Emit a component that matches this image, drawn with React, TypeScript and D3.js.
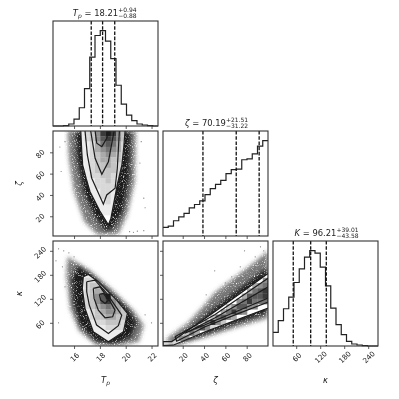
import { useEffect, useRef } from 'react';
import * as d3 from 'd3';

type Pt = [number, number];

// axis ranges
const tpDomain: Pt = [14.37, 22.5];
const zetaDomain: Pt = [1.5, 100];
const kappaDomain: Pt = [2, 264.5];

const tpTicks = [16, 18, 20, 22];
const zetaTicks = [20, 40, 60, 80];
const kappaTicks = [60, 120, 180, 240];

// 1d histograms, 20 bins each
const tpHist = [0, 0, 1, 6, 21, 55, 113, 208, 273, 288, 256, 203, 123, 66, 33, 16, 6, 3, 1, 0];
const zetaHist = [26, 30, 46, 58, 68, 85, 95, 106, 125, 143, 156, 168, 188, 200, 202, 230, 233, 248, 271, 288];
const kappaHist = [41, 76, 112, 147, 191, 232, 267, 287, 279, 237, 181, 114, 64, 34, 14, 6, 3, 1, 0, 0];

// 16/50/84 percentiles
const tpQuant = [17.33, 18.21, 19.15];
const zetaQuant = [38.97, 70.19, 91.7];
const kappaQuant = [52.63, 96.21, 135.22];

// 2d density, top row first, digit = grey level
const tpZetaGrid = [
  '00000123589853100000',
  '00000123578753100000',
  '00000112467642100000',
  '00000112456542100000',
  '00000112345432100000',
  '00000112344332100000',
  '00000012334321100000',
  '00000012333321000000',
  '00000012233221000000',
  '00000011223211000000',
  '00000001222211000000',
  '00000001122111000000',
  '00000001122110000000',
  '00000000112110000000',
  '00000000111110000000',
  '00000000011100000000',
];
const tpKappaGrid = [
  '00000000000000000000',
  '00000000000000000000',
  '00000000000000000000',
  '00000000000000000000',
  '00000000000000000000',
  '00000001000000000000',
  '00000011100000000000',
  '00000122210000000000',
  '00000123321000000000',
  '00000123443210000000',
  '00000123579432100000',
  '00000123578543210000',
  '00000123456543210000',
  '00000012345543210000',
  '00000012334433211000',
  '00000011223332211000',
  '00000001112222110000',
  '00000000111111000000',
  '00000000011100000000',
];
const zetaKappaGrid = [
  '00000000000000000000',
  '00000000000000000000',
  '00000000000000000000',
  '00000000000000000000',
  '00000000000000000000',
  '00000000000000000000',
  '00000000000000000000',
  '00000000000000000005',
  '00000000000000000456',
  '00000000000000004678',
  '00000000000000047778',
  '00000000000000568666',
  '00000000000035775500',
  '00000000000468650000',
  '00000000036754000000',
  '00000003585300000000',
  '00000257520000000000',
  '00013640000000000000',
  '00355000000000000000',
  '23200000000000000000',
];

// edge of the sample cloud
const tpZetaCloudOuter: Pt[] = [[15.5, 100], [15.6, 74.4], [16, 43], [16.8, 15], [17.8, 3], [19.4, 3], [20.1, 21], [20.7, 52.5], [20.8, 100]];
const tpZetaCloudInner: Pt[] = [[16.1, 100], [16.2, 74.4], [16.7, 43], [17.5, 21], [18.4, 6], [19, 8], [19.8, 24.4], [20.3, 55.6], [20.4, 100]];
const tpKappaCloudOuter: Pt[] = [[15.5, 225], [17.24, 190], [19.04, 140], [20.6, 90], [21.4, 54], [21, 12.6], [19.56, 3], [17.75, 4], [16.4, 40], [15.7, 96], [15.4, 179]];
const tpKappaCloudInner: Pt[] = [[16.3, 205], [17.24, 183], [18.53, 146], [20.1, 100], [20.9, 62.6], [20.4, 22], [19, 5], [17.6, 14], [16.4, 54.25], [15.9, 112.6], [15.8, 171]];
const zetaKappaCloudOuter: Pt[] = [[3.4, 17], [25, 60], [39, 100], [50, 135], [69, 174], [90, 217], [100, 240], [100, 72], [72, 50], [41, 24], [12.8, 4]];
const zetaKappaCloudInner: Pt[] = [[25, 40], [50, 100], [75, 150], [100, 200], [100, 85], [72, 60], [41, 30], [12.8, 5]];

// contours, outer first
const tpZetaContours: Pt[][] = [
  [[16.52, 100], [16.6, 80], [16.67, 68], [16.95, 55], [17.24, 43], [18, 25], [18.66, 12], [18.85, 18], [19.04, 30], [19.35, 50], [19.7, 68], [19.85, 85], [19.95, 100]],
  [[16.85, 100], [17.03, 77.5], [17.37, 55.7], [18.27, 31.3], [18.53, 40], [19.18, 46.3], [19.35, 65], [19.51, 100]],
  [[17.29, 100], [17.63, 74.4], [18.15, 59.4], [18.66, 71.2], [19.1, 100]],
  [[17.63, 100], [17.76, 88.5], [18.15, 85.3], [18.53, 93.2], [18.66, 100]],
];
const tpKappaContours: Pt[][] = [
  [[16.72, 175], [17.11, 181], [17.88, 162.6], [19.3, 116.8], [20.13, 83.4], [19.82, 37.6], [18.66, 12.6], [17.49, 37.6], [16.85, 96], [16.64, 146], [16.72, 175]],
  [[16.98, 162.6], [17.62, 166.8], [18.53, 133.4], [19.69, 79.25], [19.43, 52.6], [18.66, 33.4], [17.75, 54.25], [17.18, 104.25], [16.98, 137.6], [16.98, 162.6]],
  [[17.49, 146], [18.01, 150], [18.66, 121], [19.17, 91.75], [18.99, 75], [18.4, 72.6], [17.88, 91.75], [17.55, 121], [17.49, 146]],
  [[17.96, 131], [18.27, 133.4], [18.66, 116.75], [18.4, 108.4], [18.06, 116.75], [17.96, 131]],
];
const zetaKappaContours: Pt[][] = [
  [[1.5, 13], [9.7, 13], [50, 87.5], [100.3, 184], [100.3, 97], [72, 69], [41, 37.6], [11, 4], [1.5, 3], [1.5, 13]],
  [[12.8, 25], [50, 80], [100.3, 172], [100.3, 112], [72, 83], [41, 50], [14.35, 14], [12.8, 25]],
  [[22, 34], [50, 72], [100.3, 150], [100.3, 122], [72, 90], [41, 55], [22, 34]],
];

// stray samples away from the cloud
const tpZetaStray: Pt[] = [[20.3, 5.6], [20.6, 5], [20.9, 6], [21.4, 6.5], [15, 62], [14.9, 85], [21.4, 37], [21.5, 28], [15.3, 90], [21.1, 70], [21.2, 90]];
const tpKappaStray: Pt[] = [[14.8, 245], [15.2, 240], [14.6, 215], [15.3, 150], [14.8, 60], [21.5, 80], [22, 60], [15.6, 235], [16, 225], [15.1, 200]];
const zetaKappaStray: Pt[] = [[50, 190], [93, 250], [96, 240], [78, 240], [66, 175], [42, 130], [88, 225], [74, 200], [60, 160]];

const greyLevel = d3.scaleLinear<string>()
  .domain([0, 1, 3, 5, 7, 9])
  .range(['#ffffff', '#ececec', '#c4c4c4', '#8f8f8f', '#585858', '#1c1c1c']);

const ink = '#333';
const font = '"DejaVu Sans", sans-serif';

const App = () => {
  const svgRef = useRef<SVGSVGElement>(null);

  useEffect(() => {
    const svg = d3.select(svgRef.current);
    svg.selectAll('*').remove();

    const cols = [53, 163, 273];
    const rows = [21, 131, 241];
    const size = 105;

    const xTp = d3.scaleLinear().domain(tpDomain).range([cols[0], cols[0] + size]);
    const xZeta = d3.scaleLinear().domain(zetaDomain).range([cols[1], cols[1] + size]);
    const xKappa = d3.scaleLinear().domain(kappaDomain).range([cols[2], cols[2] + size]);
    const yZeta = d3.scaleLinear().domain(zetaDomain).range([rows[1] + size, rows[1]]);
    const yKappa = d3.scaleLinear().domain(kappaDomain).range([rows[2] + size, rows[2]]);

    const defs = svg.append('defs');
    const grain = defs.append('filter').attr('id', 'grain')
      .attr('x', '-5%').attr('y', '-5%').attr('width', '110%').attr('height', '110%');
    grain.append('feGaussianBlur').attr('in', 'SourceGraphic').attr('stdDeviation', 2.2).attr('result', 'soft');
    grain.append('feTurbulence').attr('type', 'fractalNoise').attr('baseFrequency', 0.9).attr('numOctaves', 2).attr('seed', 4).attr('result', 'noise');
    grain.append('feColorMatrix').attr('in', 'noise').attr('type', 'matrix')
      .attr('values', '0 0 0 0 0  0 0 0 0 0  0 0 0 0 0  0 0 0 3 -0.35').attr('result', 'dots');
    grain.append('feComposite').attr('in', 'soft').attr('in2', 'dots').attr('operator', 'in');

    const panelClip = (id: string, c: number, r: number) => {
      defs.append('clipPath').attr('id', id).append('rect')
        .attr('x', cols[c]).attr('y', rows[r]).attr('width', size).attr('height', size);
    };

    const frame = (c: number, r: number) => {
      svg.append('rect').attr('x', cols[c]).attr('y', rows[r]).attr('width', size).attr('height', size)
        .attr('fill', 'none').attr('stroke', ink).attr('stroke-width', 1.1);
    };

    const styleAxis = (g: any) => {
      g.select('.domain').remove();
      g.selectAll('line').attr('stroke', ink).attr('stroke-width', 0.8);
      g.selectAll('text').attr('fill', '#222').attr('font-family', font).attr('font-size', 7.2);
    };

    const bottomAxis = (x: any, ticks: number[], y: number, labels: boolean) => {
      const g = svg.append('g').attr('transform', `translate(0,${y})`)
        .call(d3.axisBottom(x).tickValues(ticks).tickSize(3).tickFormat(labels ? (d3.format('d') as any) : () => ''));
      styleAxis(g);
      if (labels) {
        g.selectAll('text').attr('text-anchor', 'middle').attr('dy', 0).attr('x', 0).attr('y', 0)
          .attr('transform', 'translate(2,13) rotate(-45)');
      }
    };

    const leftAxis = (y: any, ticks: number[], x: number, labels: boolean) => {
      const g = svg.append('g').attr('transform', `translate(${x},0)`)
        .call(d3.axisLeft(y).tickValues(ticks).tickSize(3).tickFormat(labels ? (d3.format('d') as any) : () => ''));
      styleAxis(g);
      if (labels) {
        g.selectAll('text').attr('text-anchor', 'middle').attr('dy', 0).attr('x', 0).attr('y', 0)
          .attr('transform', 'translate(-11,3) rotate(-45)');
      }
    };

    const drawHist = (c: number, r: number, values: number[], x: any, domain: Pt, quant: number[]) => {
      const y = d3.scaleLinear().domain([0, d3.max(values)! * 1.1]).range([rows[r] + size, rows[r]]);
      const bins = d3.range(values.length + 1).map((i) => domain[0] + ((domain[1] - domain[0]) * i) / values.length);
      const line = d3.line<number>().x((_, i) => x(bins[i])).y((d) => y(d)).curve(d3.curveStepAfter);
      const closed = [...values, values[values.length - 1]];
      svg.append('path').attr('d', line(closed)).attr('fill', 'none').attr('stroke', '#222').attr('stroke-width', 1.2);
      svg.selectAll(null).data(quant).enter().append('line')
        .attr('x1', (d) => x(d)).attr('x2', (d) => x(d))
        .attr('y1', rows[r]).attr('y2', rows[r] + size)
        .attr('stroke', '#111').attr('stroke-width', 1.3).attr('stroke-dasharray', '3.6 1.6');
    };

    const drawPanel = (
      c: number, r: number, x: any, y: any,
      outer: Pt[], inner: Pt[], grid: string[], contours: Pt[][], stray: Pt[],
      contourClosed: boolean,
    ) => {
      const id = `panel-${c}-${r}`;
      panelClip(id, c, r);
      const root = svg.append('g').attr('clip-path', `url(#${id})`);
      const line = d3.line<Pt>().x((d) => x(d[0])).y((d) => y(d[1]));

      const cloud = root.append('g').attr('filter', 'url(#grain)');
      cloud.append('path').attr('d', line(outer) + 'Z').attr('fill', '#555').attr('fill-opacity', 0.8);
      cloud.append('path').attr('d', line(inner) + 'Z').attr('fill', '#1c1c1c');
      root.selectAll(null).data(stray).enter().append('circle')
        .attr('cx', (d) => x(d[0])).attr('cy', (d) => y(d[1])).attr('r', 0.6).attr('fill', '#777');

      // white base, then density cells clipped to the outermost contour
      const baseId = `${id}-base`;
      const outerPath = contourClosed ? line(contours[0]) : line(contours[0]) + 'Z';
      defs.append('clipPath').attr('id', baseId).append('path').attr('d', outerPath);
      root.append('path').attr('d', outerPath).attr('fill', '#fff');
      const cells = root.append('g').attr('clip-path', `url(#${baseId})`);
      const [x0, x1] = x.domain();
      const [y0, y1] = y.domain();
      const dx = (x1 - x0) / 20;
      const dy = (y1 - y0) / 20;
      grid.forEach((row, ri) => {
        row.split('').forEach((v, ci) => {
          if (v === '0') return;
          cells.append('rect')
            .attr('x', x(x0 + ci * dx)).attr('y', y(y1 - ri * dy))
            .attr('width', x(x0 + dx) - x(x0) + 0.3).attr('height', y(y1 - dy) - y(y1) + 0.3)
            .attr('fill', greyLevel(+v));
        });
      });

      root.selectAll(null).data(contours).enter().append('path')
        .attr('d', (d) => line(d)).attr('fill', 'none').attr('stroke', '#1c1c1c').attr('stroke-width', 1.2);
    };

    // diagonal
    drawHist(0, 0, tpHist, xTp, tpDomain, tpQuant);
    drawHist(1, 1, zetaHist, xZeta, zetaDomain, zetaQuant);
    drawHist(2, 2, kappaHist, xKappa, kappaDomain, kappaQuant);

    // 2d panels
    drawPanel(0, 1, xTp, yZeta, tpZetaCloudOuter, tpZetaCloudInner, tpZetaGrid, tpZetaContours, tpZetaStray, false);
    drawPanel(0, 2, xTp, yKappa, tpKappaCloudOuter, tpKappaCloudInner, tpKappaGrid, tpKappaContours, tpKappaStray, true);
    drawPanel(1, 2, xZeta, yKappa, zetaKappaCloudOuter, zetaKappaCloudInner, zetaKappaGrid, zetaKappaContours, zetaKappaStray, true);

    [[0, 0], [1, 1], [2, 2], [0, 1], [0, 2], [1, 2]].forEach(([c, r]) => frame(c, r));

    bottomAxis(xTp, tpTicks, rows[0] + size, false);
    bottomAxis(xTp, tpTicks, rows[1] + size, false);
    bottomAxis(xZeta, zetaTicks, rows[1] + size, false);
    bottomAxis(xTp, tpTicks, rows[2] + size, true);
    bottomAxis(xZeta, zetaTicks, rows[2] + size, true);
    bottomAxis(xKappa, kappaTicks, rows[2] + size, true);
    leftAxis(yZeta, zetaTicks, cols[0], true);
    leftAxis(yKappa, kappaTicks, cols[0], true);
    leftAxis(yKappa, kappaTicks, cols[1], false);

    // titles
    const title = (cx: number, name: string, sub: string | null, value: string, up: string, down: string) => {
      const g = svg.append('g').attr('font-family', font).attr('fill', '#222');
      const main = g.append('text').attr('x', cx - 10).attr('y', 16).attr('text-anchor', 'middle').attr('font-size', 8.4);
      main.append('tspan').attr('font-style', 'italic').text(name);
      if (sub) main.append('tspan').attr('font-style', 'italic').attr('font-size', 6).attr('dy', 1.5).text(sub);
      main.append('tspan').attr('dy', sub ? -1.5 : 0).text(` = ${value}`);
      const end = (main.node() as SVGTextElement).getBBox();
      g.append('text').attr('x', end.x + end.width).attr('y', 12).attr('font-size', 6).text(up);
      g.append('text').attr('x', end.x + end.width).attr('y', 18).attr('font-size', 6).text(down);
      return g;
    };
    title(105.5, 'T', 'p', '18.21', '+0.94', '\u22120.88');
    title(215.5, '\u03B6', null, '70.19', '+21.51', '\u221231.22').attr('transform', 'translate(0,110)');
    title(325.5, '\u039A', null, '96.21', '+39.01', '\u221243.58').attr('transform', 'translate(0,220)');

    // axis labels
    const label = (x: number, y: number, rotate: number, name: string, sub?: string) => {
      const t = svg.append('text').attr('transform', `translate(${x},${y}) rotate(${rotate})`)
        .attr('text-anchor', 'middle').attr('font-family', font).attr('font-style', 'italic')
        .attr('font-size', 8.4).attr('fill', '#222');
      t.append('tspan').text(name);
      if (sub) t.append('tspan').attr('font-size', 6).attr('dy', 1.5).text(sub);
    };
    label(105.5, 383, 0, 'T', 'p');
    label(215.5, 383, 0, '\u03B6');
    label(325.5, 383, 0, '\u03BA');
    label(22, 183.5, -90, '\u03B6');
    label(22, 293.5, -90, '\u03BA');
  }, []);

  return (
    <svg ref={svgRef} width={399} height={399} style={{ position: 'absolute', top: 0, left: 0, background: '#fff', filter: 'blur(0.35px)' }} />
  );
};

export default App;
